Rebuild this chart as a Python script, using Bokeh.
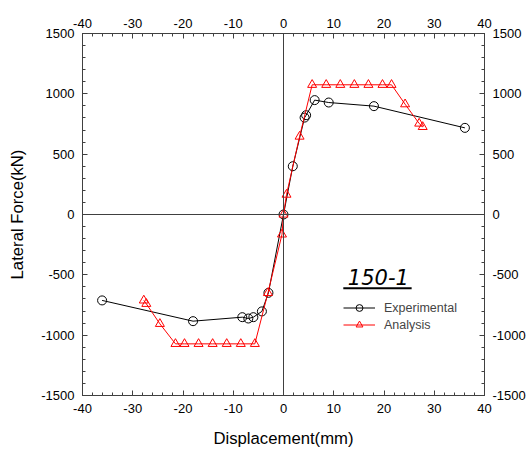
from bokeh.plotting import figure
from bokeh.models import (Range1d, LinearAxis, Span, Label, Legend, LegendItem,
                          FixedTicker, CustomJSTickFormatter)
from bokeh.embed import file_html
from bokeh.resources import INLINE

# ---- data ----
exp_x = [-36.1, -18.0, -8.2, -7.0, -6.0, -4.3, -3.0, 0.0, 1.85, 4.2, 4.5, 6.2, 9.0, 18.0, 36.1]
exp_y = [-712, -884, -851, -862, -851, -803, -649, 0, 400, 803, 823, 948, 928, 898, 718]

ana_x = [-27.8, -27.3, -24.6, -21.5, -19.7, -16.9, -14.1, -11.3, -8.5, -5.7, -3.1,
         -0.3, 0.0, 0.6, 3.2, 5.7, 8.5, 11.3, 14.1, 16.9, 19.7, 21.5, 24.2, 27.0, 27.7]
ana_y = [-712, -740, -906, -1072, -1072, -1072, -1072, -1072, -1072, -1072, -650,
         -165, 0, 165, 646, 1075, 1075, 1075, 1075, 1075, 1075, 1075, 914, 754, 726]

x_ticks = list(range(-40, 41, 10))
x_minor = list(range(-40, 41, 2))
y_ticks = list(range(-1500, 1501, 500))
y_minor = list(range(-1500, 1501, 100))

x_label = "Displacement(mm)"
y_label = "Lateral Force(kN)"
specimen = "150-1"
exp_name = "Experimental"
ana_name = "Analysis"

# position of the specimen tag (data units)
tag_x, tag_y = 12.8, -516
tag_ul_x0, tag_ul_x1, tag_ul_y = 11.9, 25.5, -611

FONT = "Liberation Sans"
AX = "#404040"

p = figure(frame_width=402, frame_height=362, output_backend="svg",
           toolbar_location=None,
           x_range=Range1d(-40, 40), y_range=Range1d(-1500, 1500),
           min_border_left=82, min_border_right=45, min_border_top=33,
           min_border_bottom=59, background_fill_color="white",
           border_fill_color="white", outline_line_color=AX)
p.grid.visible = False

xt = FixedTicker(ticks=x_ticks, minor_ticks=x_minor)
yt = FixedTicker(ticks=y_ticks, minor_ticks=y_minor)
fmt = CustomJSTickFormatter(code="return String(tick);")

p.add_layout(LinearAxis(), "above")
p.add_layout(LinearAxis(), "right")

for ax in p.xaxis:
    ax.ticker = xt
for ax in p.yaxis:
    ax.ticker = yt

for ax in p.xaxis + p.yaxis:
    ax.formatter = fmt
    ax.axis_line_color = AX
    ax.major_tick_line_color = AX
    ax.minor_tick_line_color = AX
    ax.major_tick_in = 5
    ax.major_tick_out = 0
    ax.minor_tick_in = 3
    ax.minor_tick_out = 0
    ax.major_label_text_font = FONT
    ax.major_label_text_font_size = "13px"
    ax.major_label_text_color = "black"
    ax.axis_label_text_font = FONT
    ax.axis_label_text_font_size = "16.7px"
    ax.axis_label_text_font_style = "normal"
    ax.axis_label_text_color = "black"

p.below[0].axis_label = x_label
p.below[0].major_label_standoff = 8
p.below[0].axis_label_standoff = 13
p.left[0].axis_label = y_label
p.left[0].major_label_standoff = 8
p.left[0].axis_label_standoff = 11
p.above[0].major_label_standoff = 6
p.right[0].major_label_standoff = 8

# zero lines
p.add_layout(Span(location=0, dimension="height", line_color=AX, line_width=1))
p.add_layout(Span(location=0, dimension="width", line_color=AX, line_width=1))

# series
el = p.line(exp_x, exp_y, line_color="black", line_width=1)
es = p.scatter(exp_x, exp_y, marker="circle", size=9, line_color="black",
               fill_alpha=0, line_width=1)
al = p.line(ana_x, ana_y, line_color="#ff0000", line_width=1)
as_ = p.scatter(ana_x, ana_y, marker="triangle", size=9, line_color="#ff0000",
                fill_alpha=0, line_width=1)

legend = Legend(items=[LegendItem(label=exp_name, renderers=[el, es]),
                       LegendItem(label=ana_name, renderers=[al, as_])],
                location=(261, 62), padding=0, margin=0, spacing=0,
                glyph_width=32, glyph_height=17, label_height=17,
                label_standoff=9, label_text_font=FONT,
                label_text_font_size="12.5px", border_line_alpha=0,
                background_fill_alpha=0)
p.add_layout(legend)

p.add_layout(Label(x=tag_x, y=tag_y, text=specimen, text_font="DejaVu Sans",
                   text_font_size="21px", text_font_style="italic",
                   text_color="black", text_baseline="middle"))
p.segment(x0=[tag_ul_x0], y0=[tag_ul_y], x1=[tag_ul_x1], y1=[tag_ul_y],
          line_color="black", line_width=2)

open("out.html", "w").write(file_html(p, INLINE))
